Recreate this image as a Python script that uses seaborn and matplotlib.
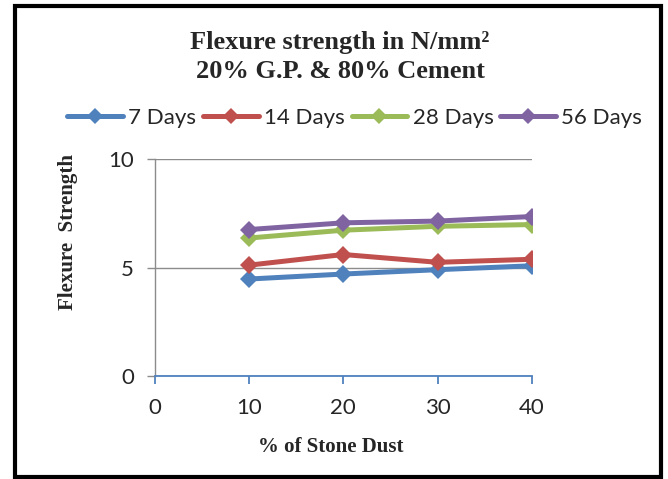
import matplotlib
matplotlib.use("Agg")
import matplotlib.pyplot as plt
import seaborn as sns
import pandas as pd
from matplotlib.lines import Line2D

stone_dust = [10, 20, 30, 40]
days_7 = [4.47, 4.70, 4.90, 5.08]
days_14 = [5.11, 5.60, 5.24, 5.38]
days_28 = [6.36, 6.72, 6.90, 6.98]
days_56 = [6.75, 7.06, 7.14, 7.35]
series_names = ["7 Days", "14 Days", "28 Days", "56 Days"]
colors = ["#4F81BD", "#C0504D", "#9BBB59", "#8064A2"]

rows = []
for name, vals in zip(series_names, [days_7, days_14, days_28, days_56]):
    for x, v in zip(stone_dust, vals):
        rows.append({"x": x, "y": v, "series": name})
df = pd.DataFrame(rows)

sns.set_style("white")
plt.rcParams["font.family"] = ["Lato", "DejaVu Sans"]

fig = plt.figure(figsize=(6.68, 4.79), dpi=100)
ax = fig.add_axes([0.232, 0.215, 0.564, 0.453])

sns.lineplot(data=df, x="x", y="y", hue="series", palette=colors,
             marker="D", markersize=9, linewidth=3.6, markeredgewidth=0,
             ax=ax, legend=False)

ax.set_xlim(0, 40)
ax.set_ylim(0, 10)
ax.set_xticks([0, 10, 20, 30, 40])
ax.set_yticks([0, 5, 10])
ax.yaxis.grid(True, color="#8C8C8C", linewidth=1)
ax.set_axisbelow(True)
for s in ["top", "right"]:
    ax.spines[s].set_visible(False)
ax.spines["left"].set_color("#8C8C8C")
ax.spines["left"].set_linewidth(1)
ax.spines["bottom"].set_color("#4F81BD")
ax.spines["bottom"].set_linewidth(1.3)
ax.tick_params(axis="y", length=6, color="#8C8C8C", width=1, labelsize=16, pad=9, left=True)
ax.tick_params(axis="x", length=6, color="#4F81BD", width=1.3, labelsize=16, pad=10, bottom=True)

ax.set_xlabel("% of Stone Dust", fontfamily="Liberation Serif", fontweight="bold", fontsize=15)
ax.set_ylabel("Flexure  Strength", fontfamily="Liberation Serif", fontweight="bold", fontsize=15)
ax.xaxis.set_label_coords(0.467, -0.283)
ax.yaxis.set_label_coords(-0.204, 0.665)

fig.text(0.509, 0.912, "Flexure strength in N/mm²", ha="center", va="center",
         fontfamily="Liberation Serif", fontweight="bold", fontsize=19)
fig.text(0.509, 0.85, "20% G.P. & 80% Cement", ha="center", va="center",
         fontfamily="Liberation Serif", fontweight="bold", fontsize=19)

handles = [Line2D([], [], color=c, linewidth=3.6, marker="D", markersize=8, markeredgewidth=0) for c in colors]
fig.legend(handles, series_names, loc="center", bbox_to_anchor=(0.531, 0.754), ncol=4,
           frameon=False, fontsize=16, handlelength=2.5, columnspacing=0.3, handletextpad=0.25)

border = plt.Rectangle((0.022, 0.005), 0.968, 0.983, transform=fig.transFigure,
                       fill=False, edgecolor="black", linewidth=3)
fig.patches.append(border)

fig.savefig("out.png", dpi=100)
